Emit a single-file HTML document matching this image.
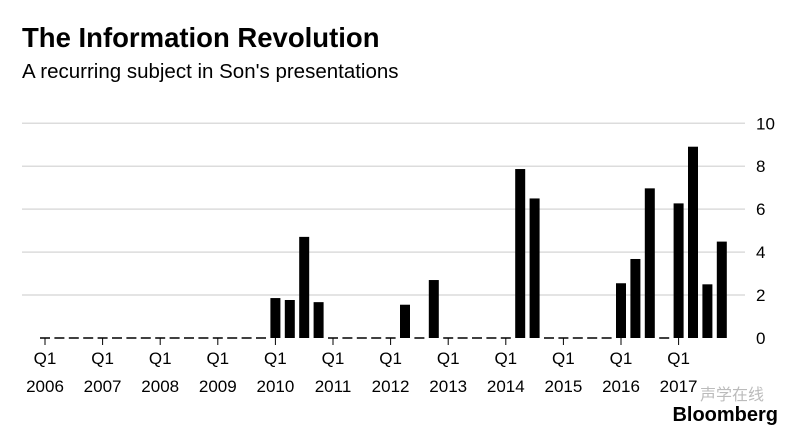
<!DOCTYPE html>
<html><head><meta charset="utf-8"><style>
body{margin:0;background:#fff;width:800px;height:439px;overflow:hidden;font-family:"Liberation Sans",Arial,sans-serif}
</style></head><body>
<svg width="800" height="439" xmlns="http://www.w3.org/2000/svg">
<text x="22" y="47" font-size="27.5" font-weight="bold" fill="#000">The Information Revolution</text>
<text x="22" y="78" font-size="20.5" fill="#000">A recurring subject in Son's presentations</text>
<g id="grid"></g><g id="bars"></g><g id="xaxis"></g><g id="yaxis"></g>
<text x="778" y="421" font-size="20" font-weight="bold" text-anchor="end" fill="#000">Bloomberg</text>
<text x="700" y="400" font-size="16" fill="#bbb" font-family="'Liberation Sans','Noto Sans CJK SC',sans-serif">声学在线</text>
</svg>
<script>
const years=[2006,2007,2008,2009,2010,2011,2012,2013,2014,2015,2016,2017];
const values=[0,0,0,0, 0,0,0,0, 0,0,0,0, 0,0,0,0, 1.86,1.77,4.71,1.67, 0,0,0,0, 0,1.55,0,2.7, 0,0,0,0, 0,7.87,6.5,0, 0,0,0,0, 2.55,3.68,6.97,0, 6.27,8.91,2.5,4.49];
const yTicks=[0,2,4,6,8,10];
const NS="http://www.w3.org/2000/svg";
const x0=45,qw=14.4,y0=338,yk=21.47,bw=10;
const X=i=>x0+qw*i, Y=v=>y0-v*yk;
function mk(t,a,p){const e=document.createElementNS(NS,t);for(const k in a)e.setAttribute(k,a[k]);p.appendChild(e);return e;}
const g=document.getElementById('grid'),b=document.getElementById('bars'),xa=document.getElementById('xaxis'),ya=document.getElementById('yaxis');
yTicks.forEach(v=>{
 if(v>0){const l=mk('line',{x1:22,x2:745,y1:Y(v),y2:Y(v),stroke:'#dcdcdc','stroke-width':1.5},g);
 
 }
 const t=mk('text',{x:756,y:Y(v)+6,'font-size':17,fill:'#000'},ya);t.textContent=v;
 
 
});
values.forEach((v,i)=>{
 const h=Math.max(v*yk,1.5);
 const r=mk('rect',{x:X(i)-bw/2,y:y0-h+(v>0?0:0.75),width:bw,height:h,fill:'#000'},b);
 
 
});
years.forEach((yr,k)=>{
 const x=X(k*4);
 const l=mk('line',{x1:x,x2:x,y1:y0,y2:y0+7,stroke:'#000','stroke-width':1},xa);
 
 
 const t=mk('text',{x:x,y:364,'font-size':17,'text-anchor':'middle',fill:'#000'},xa);t.textContent='Q1';
 
 
 const t2=mk('text',{x:x,y:392,'font-size':17,'text-anchor':'middle',fill:'#000'},xa);t2.textContent=yr;
 
 
});
</script>
</body></html>
